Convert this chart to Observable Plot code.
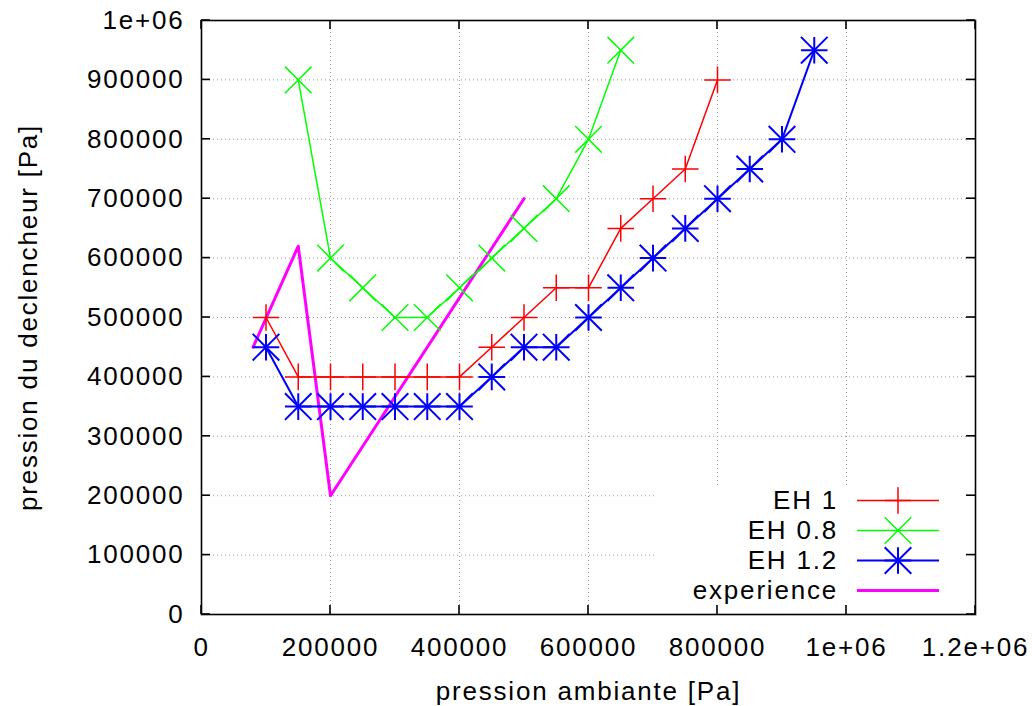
<!DOCTYPE html>
<html><head><meta charset="utf-8">
<script src="https://cdn.jsdelivr.net/npm/d3@7"></script>
<script src="https://cdn.jsdelivr.net/npm/@observablehq/plot@0.6"></script>
<style>
html,body{margin:0;padding:0;background:#fff;overflow:hidden;}
#chart svg{font-family:"Liberation Sans",Arial,sans-serif;letter-spacing:1.8px;}
</style></head><body><div id="chart"></div>
<script>
const seriesNames = ["EH 1", "EH 0.8", "EH 1.2", "experience"];
const eh1X = [100000,150000,200000,250000,300000,350000,400000,450000,500000,550000,600000,650000,700000,750000,800000];
const eh1Y = [500000,400000,400000,400000,400000,400000,400000,450000,500000,550000,550000,650000,700000,750000,900000];
const eh08X = [150000,200000,250000,300000,350000,400000,450000,500000,550000,600000,650000];
const eh08Y = [900000,600000,550000,500000,500000,550000,600000,650000,700000,800000,950000];
const eh12X = [100000,150000,200000,250000,300000,350000,400000,450000,500000,550000,600000,650000,700000,750000,800000,850000,900000,950000];
const eh12Y = [450000,350000,350000,350000,350000,350000,350000,400000,450000,450000,500000,550000,600000,650000,700000,750000,800000,950000];
const expX = [80000,150000,200000,500000];
const expY = [450000,620000,200000,700000];
const xTicks = [0,200000,400000,600000,800000,1000000,1200000];
const xTickLabels = ["0","200000","400000","600000","800000","1e+06","1.2e+06"];
const yTicks = [0,100000,200000,300000,400000,500000,600000,700000,800000,900000,1000000];
const yTickLabels = ["0","100000","200000","300000","400000","500000","600000","700000","800000","900000","1e+06"];
const xTitle = "pression ambiante [Pa]";
const yTitle = "pression du declencheur [Pa]";

const colors = ["#ff0000", "#00ff00", "#0000ff", "#ff00ff"];
const FS = 26;
const PLUS_R = 8.6, TIMES_R = 12.15;

function frameTicks(index, scales, values, dim) {
  const g = d3.create("svg:g").attr("stroke", "black").attr("stroke-width", 1.6);
  const L = dim.marginLeft, R = dim.width - dim.marginRight, T = dim.marginTop, B = dim.height - dim.marginBottom;
  const len = 9;
  for (const t of xTicks) {
    const x = scales.x(t);
    g.append("line").attr("x1", x).attr("x2", x).attr("y1", B).attr("y2", B - len);
    g.append("line").attr("x1", x).attr("x2", x).attr("y1", T).attr("y2", T + len);
  }
  for (const t of yTicks) {
    const y = scales.y(t);
    g.append("line").attr("x1", L).attr("x2", L + len).attr("y1", y).attr("y2", y);
    g.append("line").attr("x1", R).attr("x2", R - len).attr("y1", y).attr("y2", y);
  }
  return g.node();
}

function legend(index, scales, values, dim) {
  const R = dim.width - dim.marginRight, B = dim.height - dim.marginBottom;
  const g = d3.create("svg:g");
  g.append("rect").attr("x", R - 318).attr("y", B - 129).attr("width", 318).attr("height", 129).attr("fill", "white");
  const plusPath = d3.symbol(d3.symbolPlus, PLUS_R * PLUS_R * Math.PI)();
  const timesPath = d3.symbol(d3.symbolTimes, TIMES_R * TIMES_R * Math.PI)();
  const widths = [1.5, 1.5, 2, 3];
  seriesNames.forEach((name, i) => {
    const y = B - 23.5 - (seriesNames.length - 1 - i) * 30;
    g.append("text").attr("x", R - 137).attr("y", y).attr("dy", "0.34em")
      .attr("text-anchor", "end").attr("font-size", FS).attr("fill", "black").text(name);
    g.append("line").attr("x1", R - 118).attr("x2", R - 36).attr("y1", y).attr("y2", y)
      .attr("stroke", colors[i]).attr("stroke-width", widths[i]);
    const paths = i === 0 ? [plusPath] : i === 1 ? [timesPath] : i === 2 ? [plusPath, timesPath] : [];
    for (const p of paths) {
      g.append("path").attr("d", p).attr("transform", `translate(${R - 77},${y})`)
        .attr("fill", "none").attr("stroke", colors[i]).attr("stroke-width", widths[i]);
    }
  });
  return g.node();
}

const gridStyle = {stroke: "#9a9a9a", strokeDasharray: "1,3", strokeWidth: 1};
const innerX = xTicks.filter((d, i) => i > 0 && i < xTicks.length - 1);
const innerY = yTicks.filter((d, i) => i > 0 && i < yTicks.length - 1);

const chart = Plot.plot({
  width: 1032,
  height: 706,
  marginLeft: 201,
  marginRight: 57,
  marginTop: 20,
  marginBottom: 92,
  style: "background: white; font-family: 'Liberation Sans', Arial, sans-serif; letter-spacing: 1.8px;",
  x: {domain: [0, 1200000], axis: null},
  y: {domain: [0, 1000000], axis: null},
  marks: [
    Plot.ruleX(innerX, {x: d => d, ...gridStyle}),
    Plot.ruleY(innerY, {y: d => d, ...gridStyle}),
    legend,
    Plot.line(expX, {x: expX, y: expY, stroke: colors[3], strokeWidth: 3}),
    Plot.line(eh08X, {x: eh08X, y: eh08Y, stroke: colors[1], strokeWidth: 1.5}),
    Plot.dot(eh08X, {x: eh08X, y: eh08Y, symbol: "times", r: TIMES_R, fill: "none", stroke: colors[1], strokeWidth: 1.5}),
    Plot.line(eh1X, {x: eh1X, y: eh1Y, stroke: colors[0], strokeWidth: 1.5}),
    Plot.dot(eh1X, {x: eh1X, y: eh1Y, symbol: "plus", r: PLUS_R, fill: "none", stroke: colors[0], strokeWidth: 1.5}),
    Plot.line(eh12X, {x: eh12X, y: eh12Y, stroke: colors[2], strokeWidth: 2}),
    Plot.dot(eh12X, {x: eh12X, y: eh12Y, symbol: "plus", r: PLUS_R, fill: "none", stroke: colors[2], strokeWidth: 2}),
    Plot.dot(eh12X, {x: eh12X, y: eh12Y, symbol: "times", r: TIMES_R, fill: "none", stroke: colors[2], strokeWidth: 2}),
    Plot.frame({stroke: "black", strokeWidth: 1.6}),
    frameTicks,
    Plot.text(xTicks, {x: d => d, text: (d, i) => xTickLabels[i], frameAnchor: "bottom", dy: 33, lineAnchor: "middle", fontSize: FS, fill: "black"}),
    Plot.text(yTicks, {y: d => d, text: (d, i) => yTickLabels[i], frameAnchor: "left", textAnchor: "end", dx: -17, lineAnchor: "middle", fontSize: FS, fill: "black"}),
    Plot.text([xTitle], {text: d => d, frameAnchor: "bottom", dy: 77, lineAnchor: "middle", fontSize: FS, fill: "black"}),
    Plot.text([yTitle], {text: d => d, frameAnchor: "left", textAnchor: "middle", dx: -173, rotate: -90, lineAnchor: "middle", fontSize: FS, fill: "black", style: "letter-spacing:2.6px"})
  ]
});
document.getElementById("chart").appendChild(chart);
</script></body></html>
